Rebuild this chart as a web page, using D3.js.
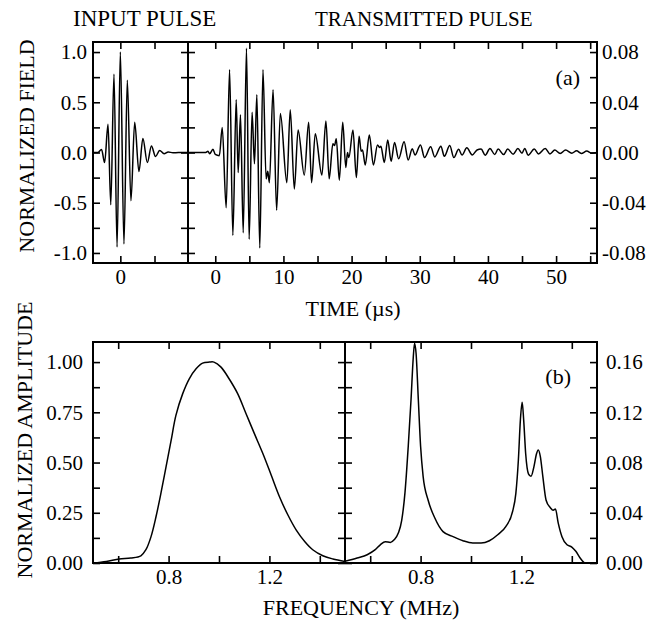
<!DOCTYPE html>
<html>
<head>
<meta charset="utf-8">
<script src="https://cdn.jsdelivr.net/npm/d3@7"></script>
<style>
  body { margin: 0; background: #fff; }
  text { font-family: "Liberation Serif", "Times New Roman", serif; fill: #000; }
</style>
</head>
<body>
<div id="chart"></div>
<script>
// input pulse: times (us) and field of its successive extrema
const inputTime  = [-4, -3.3, -2.75, -2.3, -1.8, -1.4, -0.93, -0.48, 0, 0.53, 1.02, 1.55, 2.1, 2.72, 3.3, 3.95, 4.55, 5.15, 5.75, 6.4, 7.0, 7.7, 8.5, 9.9];
const inputField = [0, 0, 0.03, -0.1, 0.28, -0.52, 0.78, -0.94, 1.0, -0.91, 0.72, -0.48, 0.30, -0.19, 0.14, -0.10, 0.065, -0.04, 0.02, -0.012, 0.006, -0.003, 0, 0];

// transmitted pulse: extrema times (us) and field (right axis units)
const transTime = [-4, -1.4, -1.07, -0.83, -0.34, 0.0, 0.6, 1.02, 1.6, 2.1, 2.58, 3.07, 3.36, 3.7, 4.1, 4.58, 4.97, 5.4, 5.75, 6.1, 6.53, 7.0, 7.46, 7.7, 7.94, 8.48, 9.0, 9.55, 10.5, 11.0, 11.6, 12.15,
  13.06, 13.7, 14.13, 14.67, 15.64, 16.23, 16.71, 17.25, 17.5, 17.75, 18.2, 18.7, 19.15, 19.4, 19.6, 20.2, 20.7, 21.1, 21.4, 21.6, 22.0, 22.6, 23.2, 23.8, 24.1, 24.3, 24.8, 25.3, 25.8, 26.3, 26.9,
  27.7, 28.3, 28.9, 29.3, 30.1, 30.7, 31.6, 32.2, 33.1, 33.6, 34.4, 35.0, 35.7, 36.2, 36.9, 37.7, 38.4, 39.0, 39.6, 40.3, 41.0, 41.5, 42.3, 42.9, 43.7, 44.4, 45.0, 45.4, 45.9, 46.8, 47.4,
  48.4, 49.1, 49.8, 50.6, 51.4, 52.3, 53.0, 53.7, 54.5, 55.2, 56];
const transField = [0, 0, 0.001, -0.001, 0.0025, -0.0015, -0.0025, 0.020, -0.044, 0.066, -0.066, 0.042, -0.016, 0.030, -0.064, 0.083, -0.069, 0.032, -0.009, 0.046, -0.076, 0.066, -0.021, -0.015, -0.024, 0.050, -0.046, 0.031, -0.024, 0.034, -0.029, 0.018,
  -0.018, 0.024, -0.024, 0.015, -0.018, 0.025, -0.021, 0.007, 0.0056, 0.011, -0.022, 0.024, -0.012, 0.0, -0.004, 0.018, -0.020, 0.013, 0.001, 0.002, -0.010, 0.014, -0.010, 0.006, 0.004, 0.005, -0.008, 0.010, -0.007, 0.008, -0.005,
  0.0085, -0.006, 0.003, -0.002, 0.006, -0.004, 0.0045, -0.0035, 0.005, -0.003, 0.0055, -0.004, 0.0025, -0.002, 0.0037, -0.002, 0.002, 0.0027, -0.0021, 0.0032, -0.0016, 0.0027, -0.0016, 0.0027, -0.0013, 0.0032, -0.0005, 0.0032, -0.0021, 0.0027, -0.0011,
  0.0032, -0.0011, 0.0019, -0.0008, 0.0019, -0.0005, 0.0013, -0.0008, 0.0011, -0.0005, 0];

// input spectrum
const inFreq = [0.5, 0.553, 0.604, 0.65, 0.69, 0.71, 0.73, 0.75, 0.77, 0.79, 0.81, 0.829, 0.856, 0.882, 0.909, 0.935, 0.962, 0.98, 1.008, 1.04, 1.074, 1.107, 1.14, 1.174, 1.207, 1.24, 1.273, 1.306, 1.34, 1.372, 1.412, 1.452, 1.5];
const inAmp  = [0, 0.008, 0.02, 0.025, 0.036, 0.066, 0.13, 0.23, 0.35, 0.48, 0.61, 0.735, 0.843, 0.917, 0.967, 0.995, 1.0, 1.0, 0.975, 0.917, 0.843, 0.744, 0.645, 0.545, 0.438, 0.33, 0.24, 0.165, 0.107, 0.066, 0.036, 0.02, 0.008];

// transmitted spectrum (right axis units)
const trFreq = [0.5, 0.548, 0.588, 0.62, 0.64, 0.66, 0.68, 0.695, 0.712, 0.725, 0.738, 0.751, 0.762, 0.771, 0.776, 0.782, 0.791, 0.8, 0.81, 0.83, 0.856, 0.889, 0.929, 0.968, 1.007, 1.04, 1.073, 1.106, 1.138, 1.165, 1.178, 1.188, 1.196, 1.203, 1.209, 1.217, 1.228, 1.238, 1.25, 1.26, 1.267, 1.275, 1.285, 1.298, 1.315, 1.326, 1.335, 1.346, 1.361, 1.381, 1.4, 1.416, 1.433, 1.453, 1.5];
const trAmp  = [0.0013, 0.004, 0.0066, 0.0106, 0.0145, 0.017, 0.0164, 0.0185, 0.024, 0.034, 0.056, 0.093, 0.13, 0.164, 0.175, 0.167, 0.13, 0.093, 0.069, 0.05, 0.036, 0.025, 0.021, 0.0177, 0.0159, 0.0159, 0.0177, 0.0225, 0.029, 0.041, 0.0555, 0.082, 0.114, 0.128, 0.114, 0.087, 0.071, 0.069, 0.077, 0.087, 0.090, 0.085, 0.069, 0.050, 0.044, 0.042, 0.043, 0.032, 0.021, 0.0145, 0.0127, 0.0093, 0.004, 0, 0];

const fieldTicks = [-1, -0.75, -0.5, -0.25, 0, 0.25, 0.5, 0.75, 1];
const fieldLabels = [-1, -0.5, 0, 0.5, 1];
const smallFieldTicks = [-0.08, -0.06, -0.04, -0.02, 0, 0.02, 0.04, 0.06, 0.08];
const smallFieldLabels = [-0.08, -0.04, 0, 0.04, 0.08];
const inTimeTicks = [0, 5];
const inTimeLabels = [0];
const trTimeTicks = [0, 5, 10, 15, 20, 25, 30, 35, 40, 45, 50, 55];
const trTimeLabels = [0, 10, 20, 30, 40, 50];
const ampTicks = [0, 0.125, 0.25, 0.375, 0.5, 0.625, 0.75, 0.875, 1];
const ampLabels = [0, 0.25, 0.5, 0.75, 1];
const smallAmpTicks = [0, 0.02, 0.04, 0.06, 0.08, 0.1, 0.12, 0.14, 0.16];
const smallAmpLabels = [0, 0.04, 0.08, 0.12, 0.16];
const freqTicks = [0.6, 0.8, 1.0, 1.2, 1.4];
const freqLabels = [0.8, 1.2];

const W = 668, H = 627;
const svg = d3.select('#chart').append('svg').attr('width', W).attr('height', H);

const L = 93, M1 = 188, M2 = 345, R = 597;
const top1 = 42, bot1 = 263, top2 = 342, bot2 = 563;
const tickLen = 7;

const xIn = d3.scaleLinear().domain([-4, 9.9]).range([L, M1]);
const xTr = d3.scaleLinear().domain([-4, 56]).range([M1, R]);
const yField = d3.scaleLinear().domain([-1.1, 1.1]).range([bot1, top1]);
const ySmall = d3.scaleLinear().domain([-0.088, 0.088]).range([bot1, top1]);

const xFL = d3.scaleLinear().domain([0.5, 1.5]).range([L, M2]);
const xFR = d3.scaleLinear().domain([0.5, 1.5]).range([M2, R]);
const yAmp = d3.scaleLinear().domain([0, 1.1]).range([bot2, top2]);
const ySmallAmp = d3.scaleLinear().domain([0, 0.176]).range([bot2, top2]);

// only some ticks carry a label; plain hyphen for negatives
function label(fstr, shown) {
  const f = d3.format(fstr);
  return d => shown.some(s => Math.abs(s - d) < 1e-9) ? f(d).replace('−', '-') : '';
}

function axis(gen, scale, ticks, shown, fstr, tx, ty, pad) {
  const g = svg.append('g')
    .attr('transform', `translate(${tx},${ty})`)
    .call(gen(scale).tickValues(ticks).tickSize(-tickLen).tickPadding(pad).tickFormat(label(fstr, shown)));
  g.select('.domain').remove();
  g.selectAll('line').attr('stroke', '#000').attr('stroke-width', 1.6);
  g.selectAll('text').style('font-family', '"Liberation Serif", serif').style('font-size', '21px');
  return g;
}
function mirror(gen, scale, ticks, tx, ty) {
  const g = svg.append('g')
    .attr('transform', `translate(${tx},${ty})`)
    .call(gen(scale).tickValues(ticks).tickSize(-tickLen).tickFormat(''));
  g.select('.domain').remove();
  g.selectAll('line').attr('stroke', '#000').attr('stroke-width', 1.6);
}

// top panel axes
axis(d3.axisLeft, yField, fieldTicks, fieldLabels, '.1f', L, 0, 6);
axis(d3.axisRight, ySmall, smallFieldTicks, smallFieldLabels, '.2f', R, 0, 5);
mirror(d3.axisRight, yField, fieldTicks, M1, 0);
mirror(d3.axisLeft, yField, fieldTicks, M1, 0);
axis(d3.axisBottom, xIn, inTimeTicks, inTimeLabels, 'd', 0, bot1, 6);
axis(d3.axisBottom, xTr, trTimeTicks, trTimeLabels, 'd', 0, bot1, 6);
mirror(d3.axisTop, xIn, inTimeTicks, 0, top1);
mirror(d3.axisTop, xTr, trTimeTicks, 0, top1);

// bottom panel axes
axis(d3.axisLeft, yAmp, ampTicks, ampLabels, '.2f', L, 0, 10);
axis(d3.axisRight, ySmallAmp, smallAmpTicks, smallAmpLabels, '.2f', R, 0, 9);
mirror(d3.axisRight, yAmp, ampTicks, M2, 0);
mirror(d3.axisLeft, yAmp, ampTicks, M2, 0);
axis(d3.axisBottom, xFL, freqTicks, freqLabels, '.1f', 0, bot2, 6);
axis(d3.axisBottom, xFR, freqTicks, freqLabels, '.1f', 0, bot2, 6);
mirror(d3.axisTop, xFL, freqTicks, 0, top2);
mirror(d3.axisTop, xFR, freqTicks, 0, top2);

const defs = svg.append('defs');
function clip(id, x0, x1, y0, y1) {
  defs.append('clipPath').attr('id', id).append('rect')
    .attr('x', x0).attr('y', y0).attr('width', x1 - x0).attr('height', y1 - y0);
  return `url(#${id})`;
}

function drawLine(xs, ys, xScale, yScale, curve, clipId, box) {
  const pts = xs.map((x, i) => [x, ys[i]]);
  svg.append('path')
    .datum(pts)
    .attr('clip-path', clip(clipId, ...box))
    .attr('fill', 'none')
    .attr('stroke', '#000')
    .attr('stroke-width', 1.5)
    .attr('stroke-linejoin', 'round')
    .attr('d', d3.line().x(d => xScale(d[0])).y(d => yScale(d[1])).curve(curve));
}

drawLine(inputTime, inputField, xIn, yField, d3.curveMonotoneX, 'c1', [L, M1, top1, bot1]);
drawLine(transTime, transField, xTr, ySmall, d3.curveMonotoneX, 'c2', [M1, R, top1, bot1]);
drawLine(inFreq, inAmp, xFL, yAmp, d3.curveCatmullRom, 'c3', [L, M2, top2, bot2]);
drawLine(trFreq, trAmp, xFR, ySmallAmp, d3.curveMonotoneX, 'c4', [M2, R, top2, bot2]);

// frames with the shared divider
[[L, top1, R, bot1, M1], [L, top2, R, bot2, M2]].forEach(([x0, y0, x1, y1, xm]) => {
  svg.append('rect').attr('x', x0).attr('y', y0).attr('width', x1 - x0).attr('height', y1 - y0)
    .attr('fill', 'none').attr('stroke', '#000').attr('stroke-width', 2);
  svg.append('line').attr('x1', xm).attr('x2', xm).attr('y1', y0).attr('y2', y1)
    .attr('stroke', '#000').attr('stroke-width', 2);
});

function txt(s, x, y, size, anchor, rot) {
  const t = svg.append('text').attr('x', x).attr('y', y).attr('text-anchor', anchor || 'start')
    .style('font-size', size + 'px').text(s);
  if (rot) t.attr('transform', `rotate(${rot},${x},${y})`);
  return t;
}
txt('INPUT PULSE', 73, 26, 23);
txt('TRANSMITTED PULSE', 315, 26, 21);
txt('(a)', 580, 85, 22, 'end');
txt('(b)', 571, 384, 22, 'end');
txt('TIME (\u00b5s)', 353, 316, 22, 'middle');
txt('FREQUENCY (MHz)', 361, 615, 22, 'middle');
txt('NORMALIZED FIELD', 34, 146, 22, 'middle', -90);
txt('NORMALIZED AMPLITUDE', 32, 440, 22, 'middle', -90);
</script>
</body>
</html>
